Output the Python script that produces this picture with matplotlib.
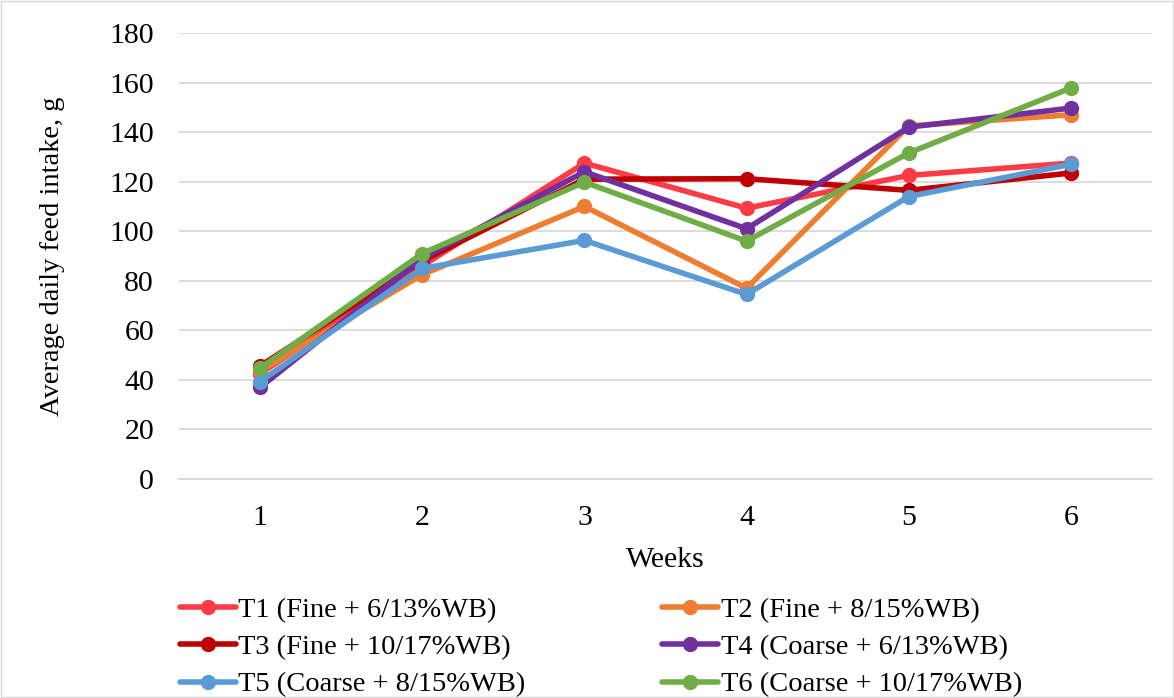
import matplotlib
matplotlib.use("Agg")
import matplotlib.pyplot as plt
import numpy as np

weeks = [1, 2, 3, 4, 5, 6]
labels = ["T1 (Fine + 6/13%WB)", "T2 (Fine + 8/15%WB)",
          "T3 (Fine + 10/17%WB)", "T4 (Coarse + 6/13%WB)",
          "T5 (Coarse + 8/15%WB)", "T6 (Coarse + 10/17%WB)"]
t1 = [42.5, 86, 127.5, 109.3, 122.5, 127.5]
t2 = [43.5, 82.5, 110, 77, 142.5, 147]
t3 = [45.6, 88, 121, 121.2, 116.5, 123.5]
t4 = [37, 89, 124, 101, 142, 149.7]
t5 = [39.3, 85, 96.3, 74.5, 114, 127]
t6 = [44.8, 91, 119.8, 96, 131.6, 157.8]
colors = ["#FF3B45", "#ED7D31", "#C00000", "#7030A0", "#5B9BD5", "#70AD47"]
series = [t1, t2, t3, t4, t5, t6]

plt.rcParams["font.family"] = ["Liberation Serif", "DejaVu Serif"]
plt.rcParams["font.size"] = 21.5

fig = plt.figure(figsize=(11.74, 6.98), dpi=100)
ax = fig.add_axes([179 / 1174, 1 - 479 / 698, (1152 - 179) / 1174, (479 - 33) / 698])

for vals, c, lab in zip(series, colors, labels):
    ax.plot(weeks, vals, color=c, lw=4, marker="o", markersize=10,
            label=lab, solid_capstyle="round", solid_joinstyle="round")

ax.set_xlim(0.5, 6.5)
ax.set_ylim(0, 180)
ax.set_yticks(np.arange(0, 181, 20))
ax.set_xticks(weeks)
ax.grid(axis="y", color="#D9D9D9", lw=1.3)
ax.set_axisbelow(True)
for s in ["top", "right", "left"]:
    ax.spines[s].set_visible(False)
ax.spines["bottom"].set_color("#D9D9D9")
ax.spines["bottom"].set_linewidth(1.3)
ax.tick_params(length=0)
ax.tick_params(axis="x", pad=19)
ax.tick_params(axis="y", pad=18)
ax.set_xlabel("Weeks", labelpad=11)
ax.set_ylabel("Average daily feed intake, g", fontsize=20.5, labelpad=32)

# order legend so rows are T1/T2, T3/T4, T5/T6
h, l = ax.get_legend_handles_labels()
order = [0, 2, 4, 1, 3, 5]
fig.legend([h[i] for i in order], [l[i] for i in order], ncol=2,
           loc="upper left", bbox_to_anchor=(180 / 1174, 1 - 597 / 698),
           frameon=False, fontsize=20.5, handlelength=1.95, handletextpad=0.1,
           columnspacing=4.8, labelspacing=0.4, borderaxespad=0, borderpad=0)

fig.patches.append(matplotlib.patches.Rectangle((0.001, 0.001), 0.998, 0.998,
                   transform=fig.transFigure, fill=False, ec="#D9D9D9", lw=1))
fig.savefig("out.png", dpi=100)
